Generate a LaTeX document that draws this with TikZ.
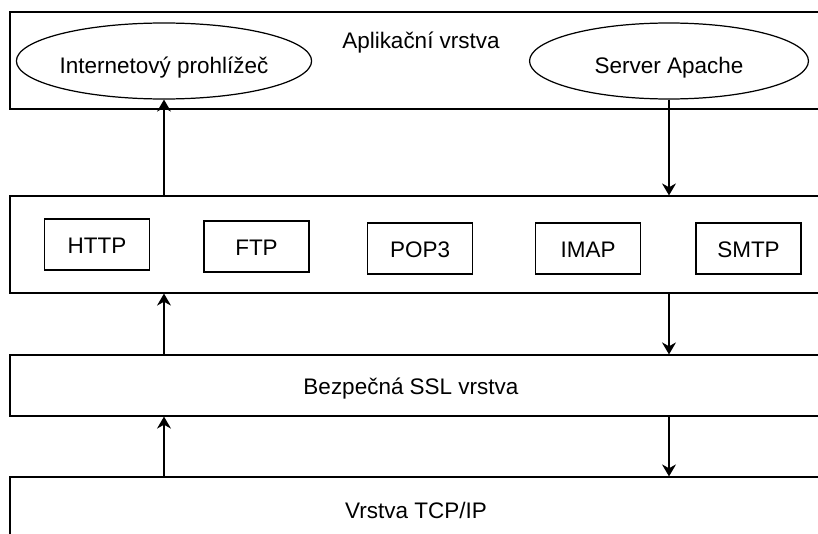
\documentclass[tikz,border=0pt]{standalone}
\usepackage{fontspec}
\setmainfont{Liberation Sans}
\usepackage{tikz}
\usetikzlibrary{shapes}
\usetikzlibrary{arrows.meta}
\usetikzlibrary{positioning}

\begin{document}
\begin{tikzpicture}[x=0.02cm,y=-0.02cm,line width=0.7pt,
	font=\fontsize{12.8}{15}\selectfont,
	every node/.style={text height=0.36cm,text depth=0pt},
	layer/.style={draw,rectangle,minimum width=16.24cm,inner sep=0pt},
	protobox/.style={draw,rectangle,minimum width=2.1cm,minimum height=1.02cm,inner sep=0pt},
	appnode/.style={draw,ellipse,minimum width=5.58cm,minimum height=1.52cm,inner sep=0pt,text height=0.52cm},
	flow/.style={-{Stealth[length=0.24cm,width=0.28cm]}}]

\clip (0,0) rectangle (818,534);

% layers
\node[layer,minimum height=1.94cm] (app) at (416,60.5) {};
\node (apptitle) at (421,40) {Aplikační vrstva};
\node[layer,minimum height=1.94cm] (proto) at (416,244.5) {};
\node[layer,minimum height=1.22cm] (ssl) at (416,385.5) {};
\node (ssltitle) at (411,385.5) {Bezpečná SSL vrstva};
\node[layer,minimum height=1.28cm] (tcp) at (416,509) {Vrstva TCP/IP};

% applications
\node[appnode] (browser) at (164,61) {Internetový prohlížeč};
\node[appnode] (server) at (669,61) {Server Apache};

% protocols
\node[protobox] (http) at (97,244.5) {HTTP};
\node[protobox] (ftp) at (256.5,246.5) {FTP};
\node[protobox] (pop) at (420,248.5) {POP3};
\node[protobox] (imap) at (588,248.5) {IMAP};
\node[protobox] (smtp) at (748.5,248.5) {SMTP};

% data going up on the left, down on the right
\draw[flow] (proto.north -| browser) -- (browser.south);
\draw[flow] (ssl.north -| browser) -- (proto.south -| browser);
\draw[flow] (tcp.north -| browser) -- (ssl.south -| browser);

\draw[flow] (server.south) -- (proto.north -| server);
\draw[flow] (proto.south -| server) -- (ssl.north -| server);
\draw[flow] (ssl.south -| server) -- (tcp.north -| server);

\end{tikzpicture}
\end{document}
